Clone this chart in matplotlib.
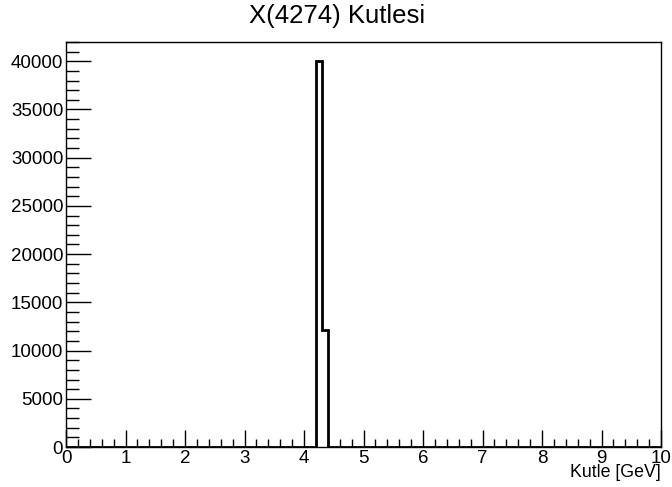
import numpy as np
import matplotlib
matplotlib.use("Agg")
import matplotlib.pyplot as plt
from matplotlib.ticker import MultipleLocator

plt.rcParams['font.family'] = ['Liberation Sans', 'DejaVu Sans']

title = "X(4274) Kutlesi"
xlabel = "Kutle [GeV]"
n_bins = 100
x_min, x_max = 0.0, 10.0
filled_bin_lows = [4.2, 4.3]
filled_bin_counts = [40000, 12100]

edges = np.linspace(x_min, x_max, n_bins + 1)
counts = np.zeros(n_bins)
for lo, c in zip(filled_bin_lows, filled_bin_counts):
    idx = int(round((lo - x_min) / (x_max - x_min) * n_bins))
    counts[idx] = c

W, H = 672, 487
fig = plt.figure(figsize=(W / 100, H / 100), dpi=100)
L, R, B, T = 66, 661, 447, 42
ax = fig.add_axes([L / W, 1 - B / H, (R - L) / W, (B - T) / H])

ax.stairs(counts, edges, color='black', linewidth=2, baseline=0)
ax.set_xlim(x_min, x_max)
ax.set_ylim(0, 1.05 * max(filled_bin_counts))

for s in ax.spines.values():
    s.set_linewidth(1.0)
    s.set_color('black')

ax.xaxis.set_major_locator(MultipleLocator(1))
ax.xaxis.set_minor_locator(MultipleLocator(0.2))
ax.yaxis.set_major_locator(MultipleLocator(5000))
ax.yaxis.set_minor_locator(MultipleLocator(1000))

ax.tick_params(axis='x', which='major', direction='in', length=12, width=1, labelsize=13.5, pad=2)
ax.tick_params(axis='x', which='minor', direction='in', length=6, width=1)
ax.tick_params(axis='y', which='major', direction='in', length=18, width=1, labelsize=13.5, pad=2)
ax.tick_params(axis='y', which='minor', direction='in', length=9, width=1)
ax.tick_params(top=False, right=False, which='both')

ax.set_xticklabels([str(int(v)) for v in ax.get_xticks()])
ax.set_yticklabels([str(int(v)) for v in ax.get_yticks()])

fig.text(337 / W, 1 - 16 / H, title, ha='center', va='center', fontsize=18.5)
fig.text(661 / W, 1 - 477 / H, xlabel, ha='right', va='baseline', fontsize=12.8)

fig.savefig("out.png", dpi=100)
